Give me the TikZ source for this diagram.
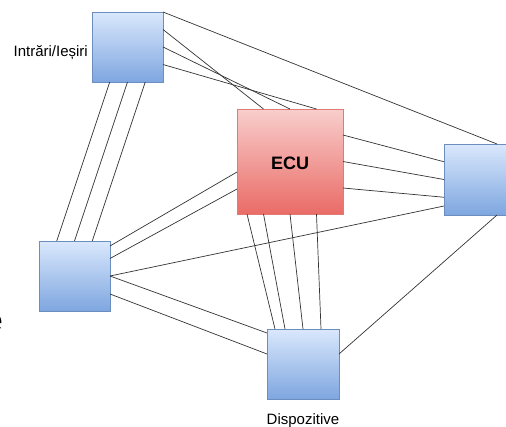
\documentclass[tikz,border=0pt]{standalone}
\usepackage{fontspec}
\setmainfont{Liberation Sans}
\usetikzlibrary{calc}
\definecolor{bluetop}{HTML}{DAE8FC}
\definecolor{bluebot}{HTML}{7EA6E0}
\definecolor{blueedge}{HTML}{6C8EBF}
\definecolor{redtop}{HTML}{F8CECC}
\definecolor{redbot}{HTML}{EA6B66}
\definecolor{rededge}{HTML}{E07A76}
\definecolor{wire}{HTML}{333333}
\begin{document}
\begin{tikzpicture}[x=1pt,y=-1pt,
  bluebox/.style={draw=blueedge,line width=0.8pt,top color=bluetop,bottom color=bluebot,
    minimum width=71pt,minimum height=70pt,inner sep=0pt,outer sep=0pt,anchor=north west},
  redbox/.style={draw=rededge,line width=0.8pt,top color=redtop,bottom color=redbot,
    minimum width=106pt,minimum height=105pt,inner sep=0pt,outer sep=0pt,anchor=north west,
    font=\fontsize{18}{20}\selectfont\bfseries},
  wire/.style={draw=wire,line width=0.7pt},
  lbl/.style={font=\fontsize{15}{17}\selectfont,inner sep=0pt}]
\useasboundingbox (0,0) rectangle (506,426);

% boxes
\node[bluebox] (io) at (92,12) {};
\node[redbox] (ecu) at (237,109) {};
\node[bluebox,minimum height=71pt] (rt) at (444,144) {};
\node[bluebox] (lf) at (39,241) {};
\node[bluebox,minimum width=72pt] (dp) at (267,329) {};

% labels
\node[lbl,anchor=base east] (iolbl) at (88,56) {Intrări/Ieșiri};
\node[lbl,anchor=base] (dplbl) at (303,424) {Dispozitive};
\node[font=\fontsize{18}{20}\selectfont\bfseries,inner sep=0pt,anchor=base] (ecults) at (290,169) {ECU};
\node[font=\fontsize{32}{34}\selectfont,inner sep=0pt,anchor=base east] (edge) at (3,331) {e};

% Intrari/Iesiri connections
\draw[wire] (io.north east) -- ($(rt.north west)+(53,0)$);
\foreach \a/\b in {17.5/26.5, 35/53, 52.5/79.5}
  \draw[wire] ($(io.north east)+(0,\a)$) -- ($(ecu.north west)+(\b,0)$);
\foreach \a in {17.75, 35.5, 53.25}
  \draw[wire] ($(io.south west)+(\a,0)$) -- ($(lf.north west)+(\a,0)$);

% ECU to the right unit
\foreach \a/\b in {26/17.75, 52.5/35.5, 79/53.25}
  \draw[wire] ($(ecu.north east)+(0,\a)$) -- ($(rt.north west)+(0,\b)$);

% left unit connections
\draw[wire] ($(lf.north east)+(0,35)$) -- ($(rt.north west)+(0,62)$);
\draw[wire] ($(lf.north east)+(0,5)$) -- ($(ecu.north west)+(0,63)$);
\draw[wire] ($(lf.north east)+(0,17.5)$) -- ($(ecu.north west)+(0,80)$);
\draw[wire] ($(lf.north east)+(0,35)$) -- ($(dp.north west)+(0,4)$);
\draw[wire] ($(lf.north east)+(0,53)$) -- ($(dp.north west)+(0,25)$);

% ECU to devices
\foreach \a/\b in {10/8, 26.5/18, 53/36, 79.5/54}
  \draw[wire] ($(ecu.south west)+(\a,0)$) -- ($(dp.north west)+(\b,0)$);

% devices to the right unit
\draw[wire] ($(dp.north east)+(0,25)$) -- ($(rt.south west)+(53,0)$);
\end{tikzpicture}
\end{document}
